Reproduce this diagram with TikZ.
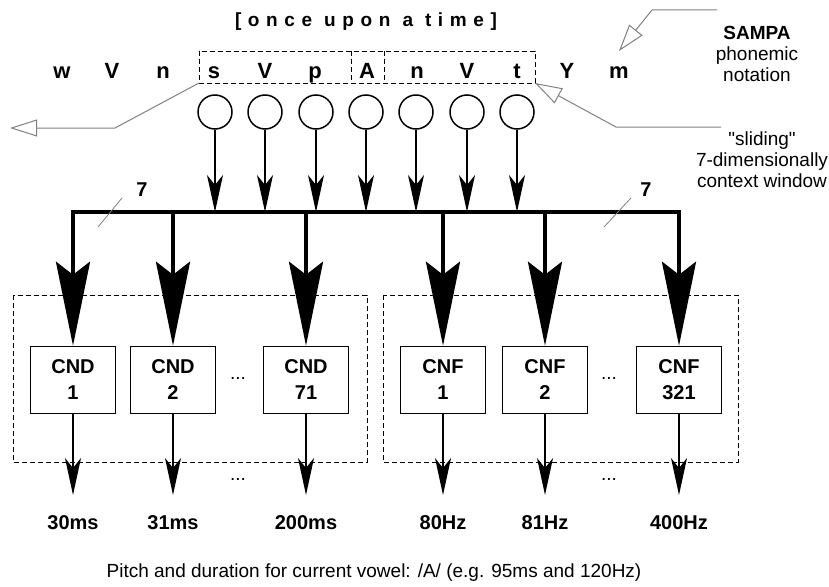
\documentclass[tikz,border=0pt]{standalone}
\usepackage{fontspec}
\newfontfamily\diagfont{Liberation Sans}
\usetikzlibrary{arrows.meta}
\begin{document}
\begin{tikzpicture}[
  x=1pt, y=-1pt,
  every node/.style={font=\diagfont\fontsize{19}{21}\selectfont},
  phon/.style={anchor=base, font=\diagfont\fontsize{22}{24}\selectfont\bfseries},
  lab/.style={font=\diagfont\fontsize{20}{22}\selectfont\bfseries},
  unit/.style={draw, line width=1.5pt, minimum width=85pt, minimum height=67pt, align=center, font=\diagfont\fontsize{20}{26}\selectfont\bfseries},
  ctx/.style={circle, draw, line width=1.5pt, minimum size=34pt, inner sep=0pt},
  frame/.style={draw, line width=0.8pt, dash pattern=on 5pt off 3pt},
  pointer/.style={draw=gray, line width=1pt, -{Triangle[open, length=27pt, width=17pt]}},
  inarrow/.style={line width=1.5pt, -{Stealth[length=37pt, width=16pt, inset=10pt]}},
  droparrow/.style={line width=4pt, -{Stealth[length=84pt, width=34pt, inset=13pt]}},
  slash/.style={draw=gray, line width=0.8pt}
]
  \useasboundingbox (0,0) rectangle (829,586);

  \node[font=\diagfont\fontsize{19}{21}\selectfont\bfseries\addfontfeature{LetterSpace=35}] (title) at (366,22) {[once upon a time]};

  \foreach \ph/\x [count=\i] in {w/62, V/112, n/163, s/214, V/265, p/315, A/367, n/417, V/467, t/517, Y/567, m/619}
    \node[phon] (ph\i) at (\x,78) {\ph};

  \draw[frame] (199,51) rectangle (535,83);
  \draw[frame] (351,51) -- (351,83) (384,51) -- (384,83);
  \coordinate (winL) at (199,83);
  \coordinate (winR) at (535,83);

  \node[align=center] (sampa) at (757,54) {\textbf{SAMPA}\\phonemic\\notation};
  \node[align=center] (window) at (762,160) {"sliding"\\7-dimensionally\\context window};
  \coordinate (sampaTip) at (619,51);
  \draw[pointer] (717,10) -- (652,10) -- (sampaTip);
  \draw[pointer] (winL) -- (115,128) -- (10,128);
  \draw[pointer] (721,127) -- (616,127) -- (winR);

  \foreach \x [count=\i] in {215,265,316,366,416,467,517} {
    \node[ctx] (c\i) at (\x,112) {};
    \coordinate (b\i) at (\x,212);
    \draw[inarrow] (c\i) -- (b\i);
  }

  \coordinate (busL) at (73,212);
  \coordinate (busR) at (679,212);
  \draw[line width=4pt, line cap=rect] (busL) -- (busR);

  \node[lab] (sevenL) at (142,190) {7};
  \node[lab] (sevenR) at (646,190) {7};
  \draw[slash] (122,198) -- (98,227);
  \draw[slash] (631,198) -- (604,227);

  \draw[frame] (13,295) rectangle (367,462);
  \draw[frame] (383,295) rectangle (738,462);

  \foreach \txt/\x/\out [count=\i] in {CND\\1/73/30ms, CND\\2/173/31ms, CND\\71/306/200ms, CNF\\1/443/80Hz, CNF\\2/545/81Hz, CNF\\321/679/400Hz} {
    \node[unit] (u\i) at (\x,380) {\txt};
    \coordinate (d\i) at (\x,212);
    \coordinate (t\i) at (\x,495);
    \draw[droparrow] (d\i) -- (u\i);
    \draw[inarrow] (u\i) -- (t\i);
    \node[lab] (o\i) at (\x,523) {\out};
  }

  \node (gapD) at (238,378) {...};
  \node (gapF) at (609,378) {...};
  \node (gapDout) at (238,479) {...};
  \node (gapFout) at (609,479) {...};

  \node (caption) at (374,573) {Pitch and duration for current vowel: /A/ (e.g. 95ms and 120Hz)};
\end{tikzpicture}
\end{document}
